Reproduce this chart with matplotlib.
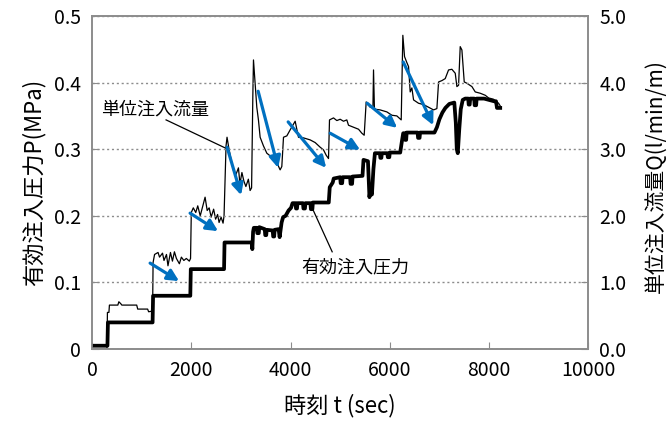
import matplotlib
matplotlib.use("Agg")
import matplotlib.pyplot as plt

plt.rcParams['font.family'] = ['Noto Sans CJK JP', 'DejaVu Sans']

# 有効注入圧力 P (MPa)
press_t = [0, 310, 320, 1220, 1230, 1980, 1990, 2660, 2670, 3220,
           3230, 3245, 3260, 3320, 3330, 3360, 3370, 3480, 3490, 3510,
           3520, 3640, 3650, 3670, 3680, 3760, 3780, 3820, 3850, 3900,
           3960, 4010, 4040, 4100, 4110, 4130, 4140, 4250, 4260, 4290,
           4300, 4400, 4410, 4440, 4450, 4770, 4790, 4850, 4870, 5000,
           5010, 5040, 5050, 5200, 5210, 5240, 5250, 5450, 5470, 5560,
           5590, 5610, 5640, 5670, 5700, 5800, 5810, 5830, 5840, 5950,
           5960, 5990, 6000, 6210, 6240, 6270, 6300, 6310, 6330, 6340,
           6560, 6570, 6600, 6610, 6900, 6950, 7000, 7060, 7120, 7200,
           7300, 7330, 7350, 7370, 7400, 7430, 7470, 7520, 7580, 7590,
           7610, 7620, 7700, 7710, 7740, 7750, 7900, 8000, 8100, 8140,
           8160, 8225]
press_v = [0.005, 0.005, 0.04, 0.04, 0.08, 0.08, 0.12, 0.12, 0.16, 0.16,
           0.15, 0.176, 0.182, 0.182, 0.174, 0.174, 0.183, 0.18, 0.171, 0.171,
           0.179, 0.178, 0.169, 0.169, 0.179, 0.18, 0.168, 0.19, 0.198, 0.2,
           0.208, 0.212, 0.219, 0.219, 0.211, 0.211, 0.219, 0.219, 0.211, 0.211,
           0.219, 0.219, 0.21, 0.21, 0.22, 0.22, 0.243, 0.25, 0.256, 0.258,
           0.249, 0.249, 0.258, 0.258, 0.248, 0.248, 0.259, 0.26, 0.284, 0.282,
           0.228, 0.24, 0.232, 0.27, 0.294, 0.294, 0.287, 0.287, 0.294, 0.294,
           0.288, 0.288, 0.295, 0.295, 0.31, 0.324, 0.324, 0.314, 0.314, 0.325,
           0.325, 0.317, 0.317, 0.325, 0.325, 0.333, 0.345, 0.355, 0.362, 0.368,
           0.37, 0.34, 0.30, 0.294, 0.33, 0.36, 0.374, 0.376, 0.376, 0.367,
           0.367, 0.376, 0.376, 0.366, 0.366, 0.376, 0.376, 0.374, 0.372, 0.372,
           0.362, 0.362]

# 単位注入流量 Q (l/min/m)
flow_t = [0, 300, 310, 340, 350, 520, 540, 580, 600, 900,
          920, 1120, 1140, 1220, 1230, 1260, 1330, 1360, 1420, 1450,
          1500, 1530, 1580, 1620, 1660, 1700, 1760, 1800, 1850, 1900,
          1960, 1985, 2000, 2040, 2090, 2130, 2180, 2230, 2278, 2320,
          2360, 2400, 2450, 2490, 2530, 2560, 2600, 2640, 2660, 2700,
          2720, 2760, 2800, 2850, 2900, 2950, 2980, 3020, 3060, 3100,
          3150, 3185, 3215, 3240, 3253, 3286, 3320, 3353, 3387, 3454,
          3522, 3623, 3723, 3790, 3824, 3858, 3925, 3992, 4093, 4160,
          4261, 4395, 4496, 4597, 4664, 4718, 4765, 4785, 4866, 4933,
          5000, 5067, 5134, 5168, 5269, 5370, 5437, 5484, 5524, 5605,
          5660, 5672, 5690, 5706, 5806, 5941, 6042, 6142, 6230, 6263,
          6297, 6344, 6378, 6411, 6445, 6479, 6579, 6680, 6781, 6882,
          6949, 6983, 7050, 7117, 7184, 7251, 7319, 7352, 7386, 7419,
          7453, 7500, 7554, 7655, 7722, 7823, 7923, 7990, 8091, 8192,
          8225]
flow_v = [0.0, 0.0, 0.55, 0.55, 0.66, 0.66, 0.71, 0.68, 0.66, 0.66,
          0.6, 0.6, 0.56, 0.57, 1.3, 1.42, 1.45, 1.38, 1.44, 1.33,
          1.42, 1.25, 1.45, 1.32, 1.46, 1.36, 1.28, 1.38, 1.33, 1.36,
          1.32, 1.36, 2.05, 2.12, 2.05, 2.15, 2.0, 2.14, 2.28, 2.08,
          2.12, 1.98, 2.1, 1.95, 2.02, 1.9, 1.98, 1.89, 2.0, 3.05,
          3.18, 3.0, 2.85, 2.68, 2.62, 2.72, 2.48, 2.65, 2.52, 2.44,
          2.55, 2.38, 2.42, 3.8, 4.34, 3.99, 3.63, 3.44, 3.18, 3.05,
          2.94, 2.88, 2.8, 2.69, 2.74, 3.18, 3.2, 3.29, 3.42, 3.18,
          3.17, 3.14, 3.1, 3.03, 2.99, 2.91, 2.86, 3.44, 3.47, 3.43,
          3.45, 3.42, 3.44, 3.36, 3.33, 3.3, 3.24, 3.21, 3.71, 3.63,
          3.62, 4.19, 3.62, 3.6, 3.59, 3.56, 3.51, 3.5, 3.44, 4.71,
          4.39, 4.3, 4.24, 3.86, 3.92, 3.74, 3.69, 3.67, 3.63, 3.59,
          3.61, 4.01, 4.03, 4.06, 4.19, 4.2, 4.14, 3.94, 3.96, 4.54,
          4.49, 4.01, 3.99, 3.94, 3.86, 3.84, 3.81, 3.77, 3.75, 3.69,
          3.65]

# 減衰を示す矢印 (t, P)
arrow_start = [(1170, 0.129), (1976, 0.204), (2722, 0.303), (3347, 0.387),
               (3952, 0.341), (4798, 0.324), (5544, 0.369), (6270, 0.431)]
arrow_end = [(1754, 0.102), (2540, 0.177), (3004, 0.231), (3750, 0.272),
             (4718, 0.272), (5403, 0.299), (6149, 0.332), (6875, 0.336)]

x_ticks = [0, 2000, 4000, 6000, 8000, 10000]
p_ticks = [0, 0.1, 0.2, 0.3, 0.4, 0.5]
p_ticklabels = ['0', '0.1', '0.2', '0.3', '0.4', '0.5']
q_ticks = [0, 1, 2, 3, 4, 5]
q_ticklabels = ['0.0', '1.0', '2.0', '3.0', '4.0', '5.0']

fig = plt.figure(figsize=(6.67, 4.32), dpi=100)
ax = fig.add_axes([0.138, 0.192, 0.744, 0.771])
ax2 = ax.twinx()

ax2.plot(flow_t, flow_v, color='black', linewidth=0.9)
ax.plot(press_t, press_v, color='black', linewidth=2.7)

ax.set_zorder(ax2.get_zorder() + 1)
ax.patch.set_visible(False)

ax.set_xlim(0, 10000)
ax.set_ylim(0, 0.5)
ax2.set_ylim(0, 5)

ax.set_xticks(x_ticks)
ax.set_yticks(p_ticks)
ax.set_yticklabels(p_ticklabels)
ax2.set_yticks(q_ticks)
ax2.set_yticklabels(q_ticklabels)

for a in (ax, ax2):
    for s in a.spines.values():
        s.set_color('#8c8c8c')
        s.set_linewidth(1.2)
    a.tick_params(direction='in', length=5, color='#8c8c8c', labelsize=14, pad=8)

ax.yaxis.grid(True, linestyle=(0, (1.5, 2)), color='#8c8c8c', linewidth=1)
ax.set_axisbelow(True)

ax.set_xlabel('時刻 t (sec)', fontsize=16, labelpad=9)
ax.set_ylabel('有効注入圧力P(MPa)', fontsize=16, labelpad=6)
ax2.set_ylabel('単位注入流量Q(l/min/m)', fontsize=15)
ax2.yaxis.set_label_coords(1.135, 0.52)
ax2.yaxis.label.set_verticalalignment('center')
ax2.yaxis.label.set_horizontalalignment('center')

for (x0, y0), (x1, y1) in zip(arrow_start, arrow_end):
    ax.annotate('', xy=(x1, y1), xytext=(x0, y0),
                arrowprops=dict(arrowstyle='-|>', color='#0070c0', lw=2.3,
                                mutation_scale=17, shrinkA=0, shrinkB=0))

# 引出線と注記
ax.plot([1492, 2681], [0.344, 0.302], color='black', linewidth=0.9)
ax.text(1270, 0.359, '単位注入流量', fontsize=13, ha='center', va='center')
ax.plot([4839, 4435], [0.146, 0.212], color='black', linewidth=0.9)
ax.text(5302, 0.122, '有効注入圧力', fontsize=13, ha='center', va='center')

fig.savefig('out.png', dpi=100)
